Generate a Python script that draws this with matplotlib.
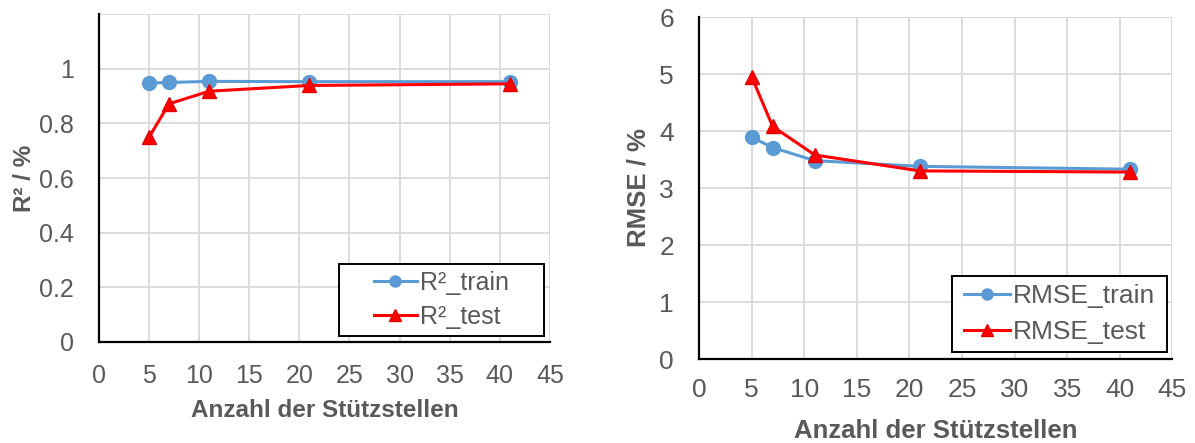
import matplotlib
matplotlib.use("Agg")
import matplotlib.pyplot as plt
from matplotlib.patches import Rectangle

plt.rcParams['font.family'] = ['Liberation Sans', 'DejaVu Sans']

stuetzstellen = [5, 7, 11, 21, 41]

r2_train = [0.948, 0.950, 0.954, 0.953, 0.953]
r2_test = [0.750, 0.872, 0.918, 0.939, 0.945]

rmse_train = [3.89, 3.71, 3.48, 3.38, 3.33]
rmse_test = [4.95, 4.08, 3.58, 3.30, 3.28]

x_ticks = [0, 5, 10, 15, 20, 25, 30, 35, 40, 45]
r2_ticks = [0, 0.2, 0.4, 0.6, 0.8, 1]
r2_tick_labels = ["0", "0.2", "0.4", "0.6", "0.8", "1"]
rmse_ticks = [0, 1, 2, 3, 4, 5, 6]

GRAY = "#595959"
GRID = "#d9d9d9"
BLUE = "#5b9bd5"
RED = "#ff0000"

fig = plt.figure(figsize=(11.95, 4.43), dpi=100)
ax1 = fig.add_axes([0.0828, 0.228, 0.3774, 0.740])
ax2 = fig.add_axes([0.585, 0.1896, 0.396, 0.772])


def style(ax, ylim, yticks, ylabels, ylabel, fs, xpad, xlabelpad, ylabelpad):
    ax.set_xlim(0, 45)
    ax.set_ylim(*ylim)
    ax.set_xticks(x_ticks)
    ax.set_yticks(yticks)
    ax.set_yticklabels(ylabels)
    # horizontal gridline at the upper limit, too
    for y in list(yticks) + [ylim[1]]:
        ax.axhline(y, color=GRID, lw=1.3, zorder=0)
    for x in x_ticks:
        ax.axvline(x, color=GRID, lw=1.3, zorder=0)
    for side in ("top", "right"):
        ax.spines[side].set_visible(False)
    for side in ("left", "bottom"):
        ax.spines[side].set_color("black")
        ax.spines[side].set_linewidth(1.6)
        ax.spines[side].set_zorder(3)
    ax.tick_params(axis="both", length=0, labelsize=fs, labelcolor=GRAY)
    ax.tick_params(axis="x", pad=xpad)
    ax.tick_params(axis="y", pad=18)
    ax.set_xlabel("Anzahl der Stützstellen", fontsize=fs - 0.5,
                  fontweight="bold", color=GRAY, labelpad=xlabelpad)
    ax.set_ylabel(ylabel, fontsize=fs - 0.5, fontweight="bold", color=GRAY,
                  labelpad=ylabelpad)


def draw(ax, train, test, train_label, test_label, box, fs, spacing):
    ax.plot(stuetzstellen, train, color=BLUE, lw=2.2, marker="o", ms=10,
            markerfacecolor=BLUE, markeredgecolor=BLUE, label=train_label,
            zorder=4, clip_on=False)
    ax.plot(stuetzstellen, test, color=RED, lw=2.2, marker="^", ms=10,
            markerfacecolor=RED, markeredgecolor="#e00000", label=test_label,
            zorder=5, clip_on=False)
    x0, y0, x1, y1 = box
    frame = Rectangle((x0, y0), x1 - x0, y1 - y0, transform=ax.transAxes,
                      facecolor="white", edgecolor="black", lw=1.4, zorder=6)
    ax.add_patch(frame)
    leg = ax.legend(loc="center", bbox_to_anchor=((x0 + x1) / 2, (y0 + y1) / 2),
                    fontsize=fs, frameon=False, handlelength=1.72,
                    handletextpad=0.12, borderpad=0.0, labelspacing=spacing,
                    borderaxespad=0.0, markerscale=0.8)
    leg.set_zorder(7)
    for t in leg.get_texts():
        t.set_color(GRAY)


style(ax1, (0, 1.2), r2_ticks, r2_tick_labels, "R² / %",
      fs=18, xpad=16, xlabelpad=8, ylabelpad=2)
draw(ax1, r2_train, r2_test, "R²_train", "R²_test",
     (0.532, 0.018, 0.987, 0.238), fs=18, spacing=0.4)

style(ax2, (0, 6), rmse_ticks, [str(t) for t in rmse_ticks], "RMSE / %",
      fs=19, xpad=14, xlabelpad=12, ylabelpad=6)
draw(ax2, rmse_train, rmse_test, "RMSE_train", "RMSE_test",
     (0.535, 0.020, 0.989, 0.243), fs=19, spacing=0.45)

fig.savefig("out.png", dpi=100, facecolor="white")
